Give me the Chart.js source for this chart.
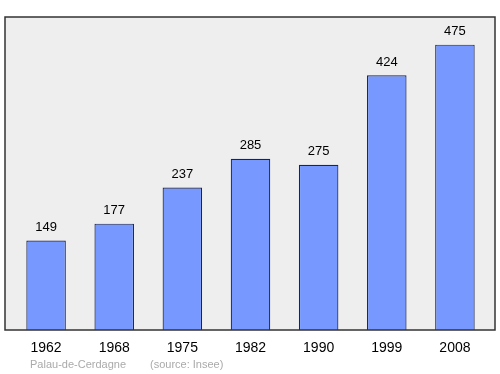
<!DOCTYPE html>
<html>
<head>
<meta charset="utf-8">
<script src="https://cdn.jsdelivr.net/npm/chart.js@4/dist/chart.umd.min.js"></script>
<style>
  html, body { margin: 0; padding: 0; background: #fff; }
  #wrap { width: 500px; height: 374px; }
</style>
</head>
<body>
<div id="wrap"><canvas id="chart" width="500" height="374"></canvas></div>
<script>
const years = ['1962', '1968', '1975', '1982', '1990', '1999', '2008'];
const population = [149, 177, 237, 285, 275, 424, 475];
const footerPlace = 'Palau-de-Cerdagne';
const footerSource = '(source: Insee)';

// gray box behind the bars, frame on top, value labels and footer
const frame = {
    id: 'frame',
    beforeDatasetsDraw(chart) {
        const ctx = chart.ctx;
        const a = chart.chartArea;
        ctx.save();
        ctx.fillStyle = '#eeeeee';
        ctx.fillRect(5, a.top, 490, a.bottom - a.top);
        ctx.restore();
    },
    afterDatasetsDraw(chart) {
        const ctx = chart.ctx;
        const a = chart.chartArea;
        ctx.save();
        ctx.strokeStyle = '#333333';
        ctx.lineWidth = 1.5;
        ctx.strokeRect(5, a.top, 490, a.bottom - a.top);

        ctx.fillStyle = '#000';
        ctx.font = '13px "Liberation Sans", Arial, sans-serif';
        ctx.textAlign = 'center';
        ctx.textBaseline = 'middle';
        const meta = chart.getDatasetMeta(0);
        meta.data.forEach((bar, i) => {
            ctx.fillText(String(population[i]), bar.x, bar.y - 13);
        });

        ctx.fillStyle = '#aaaaaa';
        ctx.font = '11px "Liberation Sans", Arial, sans-serif';
        ctx.textAlign = 'left';
        ctx.fillText(footerPlace, 30, 365);
        ctx.fillText(footerSource, 150, 365);
        ctx.restore();
    }
};

new Chart(document.getElementById('chart'), {
    type: 'bar',
    data: {
        labels: years,
        datasets: [{
            data: population,
            backgroundColor: '#7799ff',
            borderColor: '#1a2450',
            borderWidth: 1.2,
            barPercentage: 0.58,
            categoryPercentage: 1
        }]
    },
    options: {
        responsive: false,
        animation: false,
        events: [],
        layout: { padding: { left: 12, right: 11, top: 17, bottom: 0 } },
        plugins: { legend: { display: false }, tooltip: { enabled: false } },
        scales: {
            x: {
                offset: true,
                grid: { display: false, drawTicks: false },
                border: { display: false },
                ticks: {
                    color: '#000',
                    font: { family: '"Liberation Sans", Arial, sans-serif', size: 14 },
                    padding: 10,
                    maxRotation: 0
                },
                afterFit(scale) { scale.height = 44; }
            },
            y: {
                display: false,
                min: 0,
                max: 521
            }
        }
    },
    plugins: [frame]
});
</script>
</body>
</html>
